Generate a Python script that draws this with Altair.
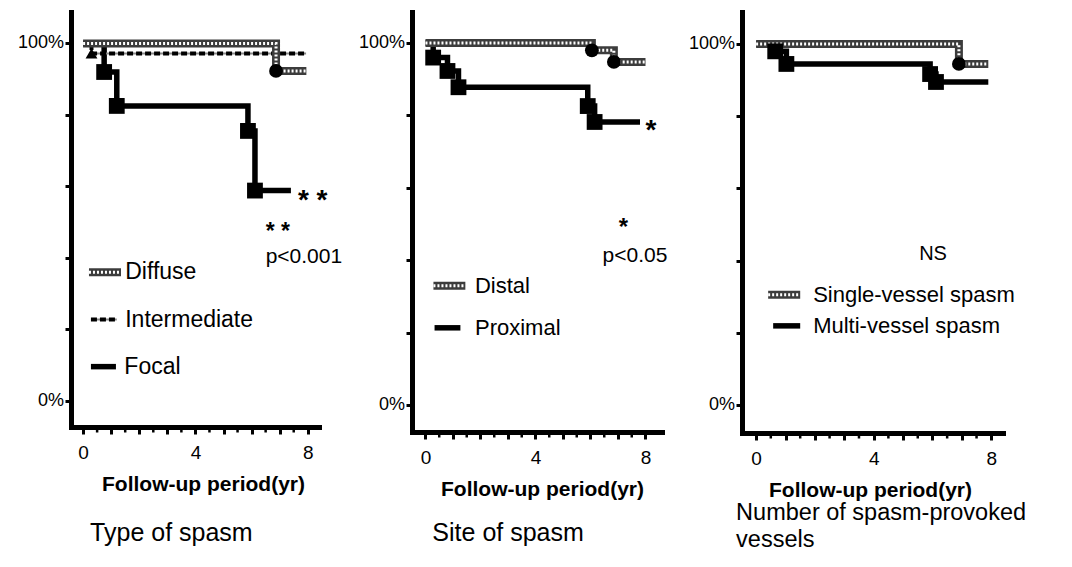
import altair as alt
import pandas as pd

FONT = "Liberation Sans"

# ---------------- data ----------------
# Panel 1 : Type of spasm  (time in years, event-free survival %)
DIFFUSE_T = [0, 6.87, 7.95]
DIFFUSE_S = [100, 92.3, 92.3]
INTER_T = [0, 0.3, 7.94]
INTER_S = [100, 97.2, 97.2]
FOCAL_T = [0, 0.75, 1.2, 5.87, 6.12, 7.4]
FOCAL_S = [100, 92.0, 82.5, 75.5, 58.8, 58.8]

# Panel 2 : Site of spasm
DISTAL_T = [0, 6.05, 6.85, 8.0]
DISTAL_S = [100, 98.0, 94.8, 94.8]
PROX_T = [0, 0.28, 0.8, 1.2, 5.9, 6.15, 7.8]
PROX_S = [100, 96.0, 92.3, 87.8, 82.6, 78.2, 78.2]

# Panel 3 : Number of spasm-provoked vessels
SINGLE_T = [0, 6.9, 7.9]
SINGLE_S = [100, 94.5, 94.5]
MULTI_T = [0, 0.65, 1.03, 5.92, 6.12, 7.9]
MULTI_S = [100, 98.0, 94.5, 91.7, 89.5, 89.5]

X_TICKS = [0, 1, 2, 3, 4, 5, 6, 7, 8]
X_MINOR = [0.5, 1.5, 2.5, 3.5, 4.5, 5.5, 6.5, 7.5]
Y_TICKS = [0, 20, 40, 60, 80, 100]
Y_LABELS = ["0%", "100%"]          # shown only at the two ends


def events(t, s):
    # drop points (all points except start and end) carry the markers
    return pd.DataFrame({"t": t[1:-1], "s": s[1:-1]})


def panel(cfg):
    W, H = cfg["w"], cfg["h"]
    xdom = cfg["xdom"]
    xs = alt.Scale(domain=xdom, nice=False, zero=False)
    ys = alt.Scale(domain=cfg["ydom"], nice=False, zero=False)
    xaxis = alt.Axis(
        values=X_TICKS,
        labelExpr="datum.value % 4 === 0 ? datum.label : ''",
        title="Follow-up period(yr)", grid=False,
        domainColor="black", domainWidth=5, domainCap="square",
        tickColor="black", tickWidth=3, tickSize=7,
        labelFont=FONT, labelFontSize=19, labelColor="black",
        labelBaseline="alphabetic", labelPadding=24,
        labelFlush=False, labelOverlap=False,
        titleFont=FONT, titleFontSize=21, titleFontWeight="bold",
        titleColor="black", titleX=cfg["title_x"], titleY=63,
        titleBaseline="alphabetic")
    yaxis = alt.Axis(
        values=Y_TICKS, labels=False,
        title="", grid=False,
        domainColor="black", domainWidth=5, domainCap="square",
        tickColor="black", tickWidth=3, tickSize=6)
    X = alt.X("t:Q", scale=xs, axis=xaxis)
    Y = alt.Y("s:Q", scale=ys, axis=yaxis)

    layers = []

    def line_df(series):
        rows = []
        for (t, s), swatch in series:
            for a, b in zip(t, s):
                rows.append({"t": a, "s": b, "g": "curve"})
            if swatch is not None:
                t0, t1, sy = swatch
                rows.append({"t": t0, "s": sy, "g": "swatch"})
                rows.append({"t": t1, "s": sy, "g": "swatch"})
        return pd.DataFrame(rows)

    # solid black curves
    if cfg.get("solid"):
        d = line_df([cfg["solid"]])
        layers.append(alt.Chart(d).mark_line(interpolate="step-after", strokeWidth=5.5,
                                             color="black", strokeCap="butt")
                      .encode(x=X, y=Y, detail="g:N"))
    # dashed (intermediate) curves
    if cfg.get("dash"):
        d = line_df([cfg["dash"]])
        layers.append(alt.Chart(d).mark_line(interpolate="step-after", strokeWidth=2,
                                             color="#8a8a8a")
                      .encode(x=X, y=Y, detail="g:N"))
        layers.append(alt.Chart(d).mark_line(interpolate="step-after", strokeWidth=4,
                                             color="black", strokeDash=[6, 3])
                      .encode(x=X, y=Y, detail="g:N"))
    # hatched curves
    if cfg.get("hatch"):
        d = line_df([cfg["hatch"]])
        layers.append(alt.Chart(d).mark_line(interpolate="step-after", strokeWidth=8,
                                             color="#3c3c3c")
                      .encode(x=X, y=Y, detail="g:N"))
        layers.append(alt.Chart(d).mark_line(interpolate="step-after", strokeWidth=3,
                                             color="white", strokeDash=[2, 2])
                      .encode(x=X, y=Y, detail="g:N"))

    # markers
    if cfg.get("squares") is not None:
        layers.append(alt.Chart(cfg["squares"]).mark_square(size=250, color="black", opacity=1)
                      .encode(x=X, y=Y))
    if cfg.get("circles") is not None:
        layers.append(alt.Chart(cfg["circles"]).mark_circle(size=190, color="black", opacity=1)
                      .encode(x=X, y=Y))
    if cfg.get("triangles") is not None:
        layers.append(alt.Chart(cfg["triangles"]).mark_point(shape="triangle-up", size=140,
                                                             filled=True, color="black", opacity=1)
                      .encode(x=X, y=Y))

    # minor ticks on the x axis
    layers.append(alt.Chart(pd.DataFrame({"t": X_MINOR})).mark_rule(color="black", strokeWidth=2.5)
                  .encode(x=X, y=alt.value(H + 2), y2=alt.value(H + 5.5)))

    # y-axis end labels (0% / 100%), placed just left of the tick marks
    ylab = pd.DataFrame({"t": [xdom[0] - 7.0 / cfg["ppy"]] * 2,
                         "s": [Y_TICKS[0], Y_TICKS[-1]], "label": Y_LABELS})
    layers.append(alt.Chart(ylab).mark_text(font=FONT, fontSize=18, align="right",
                                            baseline="middle", color="black")
                  .encode(x=X, y=Y, text="label:N"))

    # texts
    for txt in cfg["texts"]:
        d = pd.DataFrame({"t": txt["t"], "s": txt["s"], "label": txt["label"]})
        layers.append(alt.Chart(d).mark_text(font=FONT, fontSize=txt["size"],
                                             fontWeight=txt.get("weight", "normal"),
                                             align=txt.get("align", "left"),
                                             baseline=txt.get("baseline", "middle"),
                                             color="black")
                      .encode(x=X, y=Y, text="label:N"))

    return alt.layer(*layers).properties(width=W, height=H)


# ---------------- panel 1 ----------------
p1 = panel({
    "w": 248, "h": 415, "xdom": [-0.43, 8.4], "ydom": [-7.4, 108.8], "title_x": 132,
    "ppy": 28.1,
    "solid": ((FOCAL_T, FOCAL_S), (0.28, 1.17, 9.5)),
    "dash": ((INTER_T, INTER_S), (0.28, 1.2, 22.7)),
    "hatch": ((DIFFUSE_T, DIFFUSE_S), (0.21, 1.35, 35.9)),
    "squares": events(FOCAL_T, FOCAL_S),
    "circles": events(DIFFUSE_T, DIFFUSE_S),
    "triangles": events(INTER_T, INTER_S),
    "texts": [
        {"t": [1.5, 1.5, 1.47], "s": [35.9, 22.7, 9.5],
         "label": ["Diffuse", "Intermediate", "Focal"], "size": 23},
        {"t": [7.65], "s": [56.0], "label": ["* *"], "size": 28, "weight": "bold"},
        {"t": [6.5], "s": [47.3], "label": ["* *"], "size": 23, "weight": "bold"},
        {"t": [6.5], "s": [40.2], "label": ["p<0.001"], "size": 21},
        {"t": [0.25], "s": [-39.2], "label": ["Type of spasm"], "size": 25,
         "baseline": "alphabetic"},
    ],
})

# ---------------- panel 2 ----------------
p2 = panel({
    "w": 250, "h": 420, "xdom": [-0.49, 8.6], "ydom": [-7.5, 108.6], "title_x": 130,
    "ppy": 27.5,
    "solid": ((PROX_T, PROX_S), (0.33, 1.27, 21.3)),
    "hatch": ((DISTAL_T, DISTAL_S), (0.29, 1.45, 32.9)),
    "squares": events(PROX_T, PROX_S),
    "circles": events(DISTAL_T, DISTAL_S),
    "texts": [
        {"t": [1.8, 1.8], "s": [32.9, 21.3], "label": ["Distal", "Proximal"], "size": 22},
        {"t": [8.2], "s": [75.6], "label": ["*"], "size": 28,
         "weight": "bold", "align": "center"},
        {"t": [7.2], "s": [49.0], "label": ["*"], "size": 24,
         "weight": "bold", "align": "center"},
        {"t": [6.44], "s": [41.2], "label": ["p<0.05"], "size": 21},
        {"t": [0.25], "s": [-37.6], "label": ["Site of spasm"], "size": 25,
         "baseline": "alphabetic"},
    ],
})

# ---------------- panel 3 ----------------
p3 = panel({
    "w": 261, "h": 421, "xdom": [-0.48, 8.4], "ydom": [-7.8, 108.9], "title_x": 128,
    "ppy": 29.4,
    "solid": ((MULTI_T, MULTI_S), (0.58, 1.5, 21.9)),
    "hatch": ((SINGLE_T, SINGLE_S), (0.41, 1.5, 30.5)),
    "squares": events(MULTI_T, MULTI_S),
    "circles": events(SINGLE_T, SINGLE_S),
    "texts": [
        {"t": [1.94, 1.94], "s": [30.5, 21.9],
         "label": ["Single-vessel spasm", "Multi-vessel spasm"], "size": 22},
        {"t": [6.02], "s": [41.8], "label": ["NS"], "size": 20, "align": "center"},
        {"t": [-0.68, -0.68], "s": [-31.9, -39.4],
         "label": ["Number of spasm-provoked", "vessels"], "size": 23.5,
         "baseline": "alphabetic"},
    ],
})

right = alt.hconcat(p2, p3, spacing=80, bounds="flush")
chart = (
    alt.hconcat(p1, right, spacing=93, bounds="flush")
    .properties(padding={"left": 9, "top": 4, "right": 5, "bottom": 5},
                background="white")
    .configure_view(stroke="transparent", strokeWidth=0)
)

chart.save("out.html", embed_options={"renderer": "svg", "actions": False})
